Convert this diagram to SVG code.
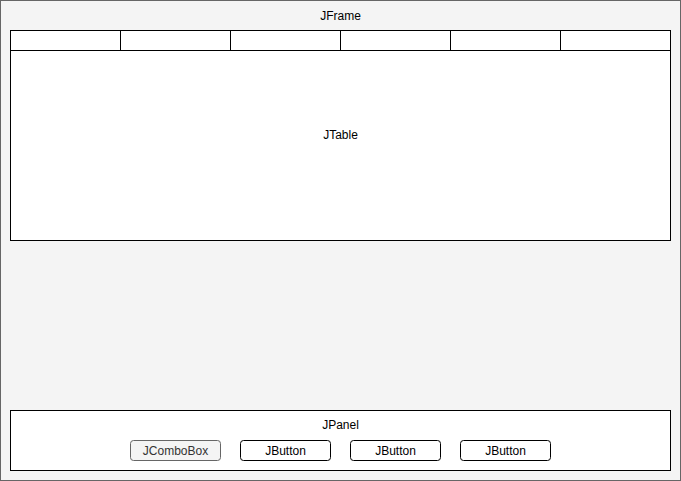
<svg xmlns="http://www.w3.org/2000/svg" width="681" height="481" viewBox="0 0 681 481">
<style>
text{font-family:"Liberation Sans",Arial,sans-serif;font-size:12px;fill:#000;text-anchor:middle;dominant-baseline:central}
.cell{fill:#fff;stroke:#000;stroke-width:1}
.btn{fill:#fff;stroke:#000;stroke-width:1}
</style>
<g id="jframe">
<rect x="0.5" y="0.5" width="680" height="480" fill="#f4f4f4" stroke="#666"/>
<text x="340.5" y="16">JFrame</text>
</g>
<g id="header">
<rect class="cell" x="10.5" y="30.5" width="110" height="20"/>
<rect class="cell" x="120.5" y="30.5" width="110" height="20"/>
<rect class="cell" x="230.5" y="30.5" width="110" height="20"/>
<rect class="cell" x="340.5" y="30.5" width="110" height="20"/>
<rect class="cell" x="450.5" y="30.5" width="110" height="20"/>
<rect class="cell" x="560.5" y="30.5" width="110" height="20"/>
</g>
<g id="jtable">
<rect class="cell" x="10.5" y="50.5" width="660" height="190"/>
<text x="340.5" y="135">JTable</text>
</g>
<g id="jpanel">
<rect class="cell" x="10.5" y="410.5" width="660" height="60"/>
<text x="340.5" y="425">JPanel</text>
</g>
<g id="jcombobox">
<rect x="130.5" y="440.5" width="90" height="20" rx="3" fill="#f4f4f4" stroke="#666"/>
<text x="175.5" y="450.5" style="fill:#333">JComboBox</text>
</g>
<g id="jbutton1">
<rect class="btn" x="240.5" y="440.5" width="90" height="20" rx="3"/>
<text x="285.5" y="450.5">JButton</text>
</g>
<g id="jbutton2">
<rect class="btn" x="350.5" y="440.5" width="90" height="20" rx="3"/>
<text x="395.5" y="450.5">JButton</text>
</g>
<g id="jbutton3">
<rect class="btn" x="460.5" y="440.5" width="90" height="20" rx="3"/>
<text x="505.5" y="450.5">JButton</text>
</g>
<g id="connectors"/>
</svg>
